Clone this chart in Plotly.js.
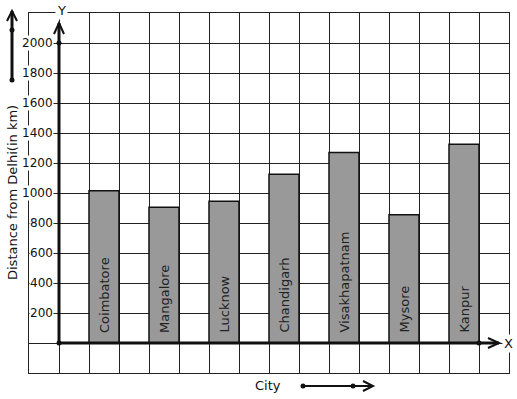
<!DOCTYPE html>
<html><head><meta charset="utf-8">
<script src="https://cdn.plot.ly/plotly-3.0.1.min.js"></script>
<style>html,body{margin:0;padding:0;background:#fff}#chart{width:517px;height:399px}</style>
</head><body><div id="chart"></div>
<script>
const cities = ['Coimbatore','Mangalore','Lucknow','Chandigarh','Visakhapatnam','Mysore','Kanpur'];
const distances = [1015, 905, 945, 1125, 1270, 855, 1325];
const yTickValues = [200, 400, 600, 800, 1000, 1200, 1400, 1600, 1800, 2000];
const yTickLabels = ['200','400','600','800','1000','1200','1400','1600','1800','2000'];
const yTitle = 'Distance from Delhi(in km)';
const xTitle = 'City';

const W = 517, H = 399, M = {l: 29, r: 8, t: 13, b: 26};
const pw = W - M.l - M.r, ph = H - M.t - M.b;
const X = px => (px - M.l) / pw;          // pixel -> paper x
const Y = py => (H - M.b - py) / ph;      // pixel -> paper y
const XR = [-1, 15], YR = [-200, 2200];
const ux = (XR[1] - XR[0]) / pw, uy = (YR[1] - YR[0]) / ph; // data units per pixel
const barX = cities.map((c, i) => 2 * i + 1.5);

const font = 'DejaVu Sans, sans-serif';
const ink = '#111';

const shapes = [];
function line(x0, y0, x1, y1, ref, w) {
  shapes.push({type: 'line', xref: ref, yref: ref === 'x' ? 'y' : 'paper', x0, y0, x1, y1, line: {color: ink, width: w}});
}
function path(d, ref, w) {
  shapes.push({type: 'path', xref: ref, yref: ref === 'x' ? 'y' : 'paper', path: d, line: {color: ink, width: w}});
}
function dot(x, y, ref, rx, ry) {
  shapes.push({type: 'circle', xref: ref, yref: ref === 'x' ? 'y' : 'paper', x0: x - rx, x1: x + rx, y0: y - ry, y1: y + ry, fillcolor: ink, line: {color: ink, width: 0}});
}
// Y axis (data coords)
const yTip = 20 * uy + 2000 + (43 - 23 - 20) * uy; // tip ~ 20px above 2000
const yTipV = 2000 + 20 * uy;
line(0, 0, 0, yTipV, 'x', 3);
path(`M ${-5*ux},${yTipV - 11*uy} L 0,${yTipV} L ${5*ux},${yTipV - 11*uy}`, 'x', 2);
// X axis
const xTipV = 14 + 20 * ux;
line(0, 0, xTipV, 0, 'x', 3);
path(`M ${xTipV - 11*ux},${5*uy} L ${xTipV},0 L ${xTipV - 11*ux},${-5*uy}`, 'x', 2);
dot(0, 0, 'x', 2.5*ux, 2.5*uy);
dot(0, 2000, 'x', 2.5*ux, 2.5*uy);
dot(14, 0, 'x', 2.5*ux, 2.5*uy);
// top-left decorative arrow (paper)
line(X(12), Y(80), X(12), Y(11), 'paper', 3);
path(`M ${X(7)},${Y(21)} L ${X(12)},${Y(11)} L ${X(17)},${Y(21)}`, 'paper', 2);
dot(X(12), Y(30), 'paper', 2.5/pw, 2.5/ph);
dot(X(12), Y(80), 'paper', 2.5/pw, 2.5/ph);
// bottom decorative arrow
line(X(303), Y(386), X(372), Y(386), 'paper', 2);
path(`M ${X(363)},${Y(381)} L ${X(373)},${Y(386)} L ${X(363)},${Y(391)}`, 'paper', 2);
dot(X(303), Y(386), 'paper', 2.5/pw, 2.5/ph);
dot(X(353), Y(386), 'paper', 2.5/pw, 2.5/ph);

const annotations = [];
yTickValues.forEach((v, i) => annotations.push({
  x: 0, y: v, xref: 'x', yref: 'y', text: yTickLabels[i], showarrow: false,
  xanchor: 'right', yanchor: 'middle', xshift: -5, bgcolor: '#fff', borderpad: 0,
  font: {family: font, size: 12, color: ink}
}));
cities.forEach((c, i) => annotations.push({
  x: barX[i], y: 0, xref: 'x', yref: 'y', text: c, showarrow: false, textangle: -90,
  xanchor: 'center', yanchor: 'bottom', yshift: 8,
  font: {family: font, size: 13, color: '#222'}
}));
annotations.push({x: X(61), y: Y(10), xref: 'paper', yref: 'paper', text: 'Y', showarrow: false,
  xanchor: 'center', yanchor: 'middle', bgcolor: '#fff', borderpad: 1, font: {family: font, size: 13, color: ink}});
annotations.push({x: X(508), y: Y(343), xref: 'paper', yref: 'paper', text: 'X', showarrow: false,
  xanchor: 'center', yanchor: 'middle', bgcolor: '#fff', borderpad: 1, font: {family: font, size: 13, color: ink}});
annotations.push({x: X(268), y: Y(385), xref: 'paper', yref: 'paper', text: xTitle, showarrow: false,
  xanchor: 'center', yanchor: 'middle', font: {family: font, size: 13, color: ink}});
annotations.push({x: X(12), y: Y(193), xref: 'paper', yref: 'paper', text: yTitle, showarrow: false,
  textangle: -90, xanchor: 'center', yanchor: 'middle', font: {family: font, size: 13, color: ink}});

const trace = {
  type: 'bar', x: barX, y: distances, width: 1,
  marker: {color: '#999999', line: {color: ink, width: 1.5}},
  hoverinfo: 'skip'
};

const axisCommon = {
  showgrid: true, gridcolor: '#222', gridwidth: 1, zeroline: false, showticklabels: false,
  ticks: '', showline: true, mirror: true, linecolor: '#222', linewidth: 1, fixedrange: true
};
const layout = {
  width: W, height: H, margin: M, paper_bgcolor: '#fff', plot_bgcolor: '#fff',
  showlegend: false, font: {family: font},
  xaxis: Object.assign({}, axisCommon, {range: XR, tick0: 0, dtick: 1}),
  yaxis: Object.assign({}, axisCommon, {range: YR, tick0: 0, dtick: 200}),
  shapes, annotations
};
Plotly.newPlot('chart', [trace], layout, {staticPlot: true, displayModeBar: false});
</script></body></html>
